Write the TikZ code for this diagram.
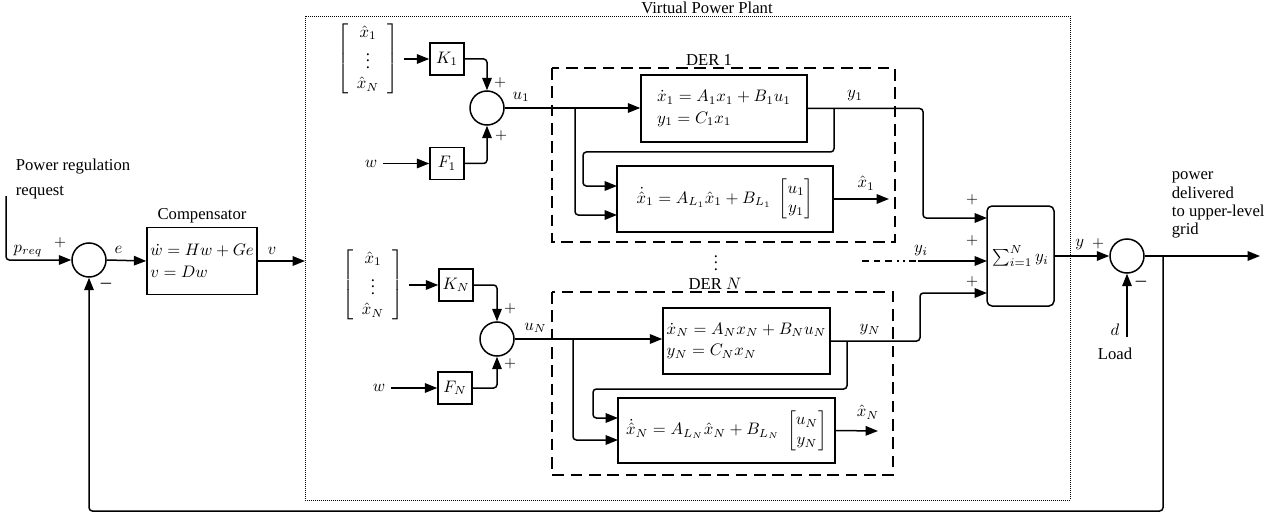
\documentclass[tikz,border=0pt]{standalone}
\usepackage{amsmath}
\usepackage[no-math]{fontspec}
\setmainfont{Liberation Serif}
\usepackage{tikz}
\usetikzlibrary{arrows.meta,positioning,calc}
\tikzset{
  sigarr/.style={-{Triangle[length=2.6mm,width=2mm]}, line width=0.9pt, rounded corners=2pt},
  blk/.style={draw, line width=0.9pt, inner sep=2pt, align=left},
  gain/.style={blk, minimum width=20.4pt, minimum height=19.4pt, align=center},
  sumnode/.style={draw, circle, line width=0.9pt, minimum size=20.4pt, inner sep=0pt},
  derbox/.style={draw, line width=0.9pt, dash pattern=on 7pt off 4pt},
  vppbox/.style={draw, line width=0.5pt, dash pattern=on 0.6pt off 0.6pt},
  sgn/.style={inner sep=0pt, font=\small},
}

\begin{document}
\begin{tikzpicture}[x=0.6pt, y=-0.6pt]
  \useasboundingbox (0,0) rectangle (1276,514);
  % frames of the plant and of the two DERs
  \draw[vppbox] (305,16) rectangle (1070,500);
  \node[above, inner sep=1pt] (vpplbl) at (707,16) {Virtual Power Plant};
  \draw[derbox] (552,68) rectangle (895,242);
  \node[above, inner sep=1pt] (der1lbl) at (709,68) {DER 1};
  \draw[derbox] (552,292) rectangle (893,475);
  \node[above, inner sep=1pt] (derNlbl) at (715,292) {DER $N$};
  \node (derdots) at (716,258) {$\vdots$};

  % compensator loop
  \coordinate (preqin) at (6,196);
  \node[anchor=west, align=left] (preqtxt) at (10,179) {Power regulation\\[3pt] request};
  \node[sumnode] (sum0) at (89,260) {};
  \node[blk, minimum width=66pt, minimum height=40pt] (comp) at (202,261)
       {$\dot{w} = Hw + Ge$\\[1pt] $v = Dw$};
  \node[above, inner sep=2pt] (complbl) at (comp.north) {Compensator};
  \draw[sigarr] (preqin) |- (sum0.west);
  \node (preqlbl) at (28,251) {$p_{req}$};
  \node[sgn] at (60,243) {$+$};
  \node[sgn] at (106,284) {$\boldsymbol{-}$};
  \draw[sigarr] (sum0.east) -- node[above, pos=0.3] {$e$} (comp.west);
  \coordinate (vppin) at (305,261);
  \draw[sigarr] (comp.east) -- node[above, pos=0.3] {$v$} (vppin);

  % DER 1
  \node (vec1) at (368,59) {$\left[\begin{array}{c}\hat{x}_1\\ \vdots\\ \hat{x}_N\end{array}\right]$};
  \node[gain] (K1) at (447,59) {$K_1$};
  \node[gain] (F1) at (447,163.5) {$F_1$};
  \node (w1) at (371,163.5) {$w$};
  \node[sumnode] (sum1) at (487,108) {};
  \draw[sigarr] (vec1) -- (K1);
  \draw[sigarr] (K1.east) -| (sum1.north);
  \draw[sigarr] (w1) -- (F1);
  \draw[sigarr] (F1.east) -| (sum1.south);
  \node[sgn] at (500,83) {$+$};
  \node[sgn] at (501,136) {$+$};
  \node[blk, minimum width=99.6pt, minimum height=40.2pt] (plant1) at (724,108.5)
       {$\dot{x}_1 = A_1x_1 + B_1u_1$\\[1pt] $y_1 = C_1x_1$};
  \node[blk, minimum width=129.6pt, minimum height=39.6pt] (obs1) at (725,199)
       {$\dot{\hat{x}}_1 = A_{L_1}\hat{x}_1 + B_{L_1}\;\begin{bmatrix}u_1\\ y_1\end{bmatrix}$};
  \draw[sigarr] (sum1.east) -- node[above, pos=0.12] {$u_1$} (sum1.east -| plant1.west);
  \coordinate (br1) at (575,108.5);
  \coordinate (obs1a) at (617,186);
  \coordinate (obs1b) at (617,215);
  \draw[sigarr] (br1) |- (obs1b);
  \coordinate (fb1) at (834,108.5);
  \draw[sigarr] (fb1) |- (583,152) |- (obs1a);
  \coordinate (sig1in) at (987,218);
  \draw[sigarr] (plant1.east) -| (923,218) -- (sig1in);
  \node (y1lbl) at (855,96) {$y_1$};
  \coordinate (xh1out) at (889,199);
  \draw[sigarr] (obs1.east) -- (xh1out);
  \node (xh1lbl) at (866,183) {$\hat{x}_1$};

  % the other DERs
  \coordinate (yidash) at (862,261);
  \coordinate (yisolid) at (918,261);
  \coordinate (sig2in) at (987,261);
  \draw[line width=0.9pt, dash pattern=on 4pt off 3pt on 4pt off 3pt on 4pt off 3pt on 1.2pt off 2.4pt on 1.2pt off 2.4pt] (yidash) -- (yisolid);
  \draw[sigarr] (yisolid) -- (sig2in);
  \node (yilbl) at (921,251) {$y_i$};

  % DER N
  \node (vecN) at (373,285) {$\left[\begin{array}{c}\hat{x}_1\\ \vdots\\ \hat{x}_N\end{array}\right]$};
  \node[gain] (KN) at (456,285) {$K_N$};
  \node[gain] (FN) at (455,388) {$F_N$};
  \node (wN) at (379,388) {$w$};
  \node[sumnode] (sumN) at (497,339) {};
  \draw[sigarr] (vecN) -- (KN);
  \draw[sigarr] (KN.east) -| (sumN.north);
  \draw[sigarr] (wN) -- (FN);
  \draw[sigarr] (FN.east) -| (sumN.south);
  \node[sgn] at (510,309) {$+$};
  \node[sgn] at (510,364) {$+$};
  \node[blk, minimum width=100.2pt, minimum height=39.6pt] (plantN) at (746.5,341)
       {$\dot{x}_N = A_Nx_N + B_Nu_N$\\[1pt] $y_N = C_Nx_N$};
  \node[blk, minimum width=130.2pt, minimum height=39pt] (obsN) at (726.5,430.5)
       {$\dot{\hat{x}}_N = A_{L_N}\hat{x}_N + B_{L_N}\;\begin{bmatrix}u_N\\ y_N\end{bmatrix}$};
  \draw[sigarr] (sumN.east) -- node[above, pos=0.14] {$u_N$} (sumN.east -| plantN.west);
  \coordinate (brN) at (573,339);
  \coordinate (obsNa) at (618,418);
  \coordinate (obsNb) at (618,440);
  \draw[sigarr] (brN) |- (obsNb);
  \coordinate (fbN) at (847,341);
  \draw[sigarr] (fbN) |- (593,389) |- (obsNa);
  \coordinate (sigNin) at (987,293);
  \draw[sigarr] (plantN.east) -| (920,293) -- (sigNin);
  \node (yNlbl) at (870,330) {$y_N$};
  \coordinate (xhNout) at (878,431);
  \draw[sigarr] (obsN.east) -- (xhNout);
  \node (xhNlbl) at (868,412) {$\hat{x}_N$};

  % summation and load
  \node[blk, rounded corners=3pt, minimum width=40.2pt, minimum height=60pt, align=center] (sigma) at (1020.5,256)
       {$\sum_{i=1}^{N} y_i$};
  \node[sgn] at (972,200) {$+$};
  \node[sgn] at (972,241) {$+$};
  \node[sgn] at (972,282) {$+$};
  \node[sumnode] (sum2) at (1127,256) {};
  \draw[sigarr] (sigma.east) -- node[above, pos=0.46] {$y$} (sum2.west);
  \node[sgn] at (1098,244) {$+$};
  \node[sgn] at (1141,282) {$\boldsymbol{-}$};
  \coordinate (dload) at (1127,337);
  \draw[sigarr] (dload) -- (sum2.south);
  \node (dlbl) at (1115,330) {$d$};
  \node (loadlbl) at (1115,354) {Load};
  \coordinate (gridout) at (1260,256);
  \draw[sigarr] (sum2.east) -- (gridout);
  \node[anchor=north west, align=left, font=\fontsize{10}{11}\selectfont] (gridlbl) at (1166,166)
       {power\\ delivered\\ to upper-level\\ grid};

  % feedback of the delivered power
  \coordinate (fbout) at (1163,256);
  \coordinate (fbbottom) at (0,511);
  \draw[sigarr] (fbout) |- (sum0.south |- fbbottom) -- (sum0.south);
\end{tikzpicture}
\end{document}
